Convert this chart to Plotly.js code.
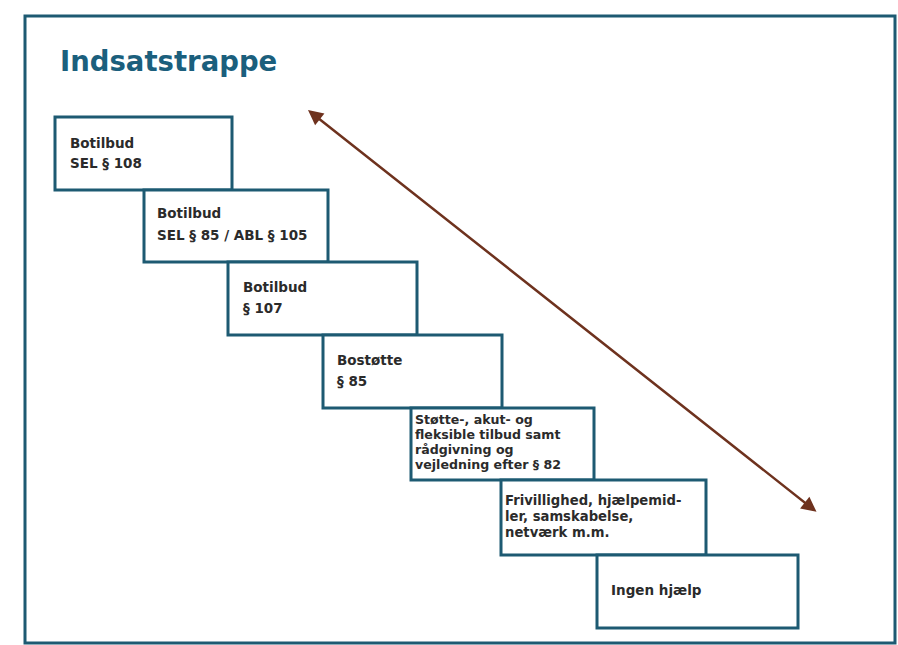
<!DOCTYPE html>
<html>
<head>
<meta charset="utf-8">
<script src="https://cdn.plot.ly/plotly-3.0.1.min.js"></script>
<style>html,body{margin:0;padding:0;background:#fff;}#chart{width:898px;height:645px;}</style>
</head>
<body>
<div id="chart"></div>
<script>
// ---- Data: the steps of the "Indsatstrappe" (from most to least intensive) ----
const chartTitle = "Indsatstrappe";
const stepLevels = [7, 6, 5, 4, 3, 2, 1];
const stepLines = [
  ["Botilbud", "SEL § 108"],
  ["Botilbud", "SEL § 85 / ABL § 105"],
  ["Botilbud", "§ 107"],
  ["Bostøtte", "§ 85"],
  ["Støtte-, akut- og", "fleksible tilbud samt", "rådgivning og", "vejledning efter § 82"],
  ["Frivillighed, hjælpemid-", "ler, samskabelse,", "netværk m.m."],
  ["Ingen hjælp"]
];

// ---- Geometry (diagram coordinates, y downward) ----
const geom = {
  frame: [25, 16, 895, 643],
  boxLeft:   [55, 144, 228, 323, 411, 501, 597],
  boxRight:  [232, 328, 417, 502, 594, 706, 798],
  boxTop:    [117, 190, 262, 335, 408, 480, 555],
  boxBottom: [190, 262, 335, 408, 480, 555, 628],
  textX:     [69, 156, 242, 336, 414, 504, 610],
  lineY: [[143, 163], [213, 235], [287, 308], [360, 381], [419.5, 434.5, 449.5, 464.5], [500, 516, 532], [590]],
  fontSize: [13.5, 13.5, 13.5, 13.5, 12.6, 13.2, 13.5],
  arrowUp: [308, 110],
  arrowDown: [818, 513]
};

const teal = "#1d5a72";
const textCol = "#2b2b2b";
const brown = "#6e321e";
const font = "DejaVu Sans, Verdana, sans-serif";

const shapes = [{
  type: "rect", xref: "x", yref: "y",
  x0: geom.frame[0], y0: geom.frame[1], x1: geom.frame[2], y1: geom.frame[3],
  line: {color: teal, width: 3}, fillcolor: "rgba(0,0,0,0)", layer: "below"
}];
const annotations = [{
  x: 58, y: 61, xref: "x", yref: "y", xanchor: "left", yanchor: "middle",
  text: "<b>" + chartTitle + "</b>", showarrow: false,
  font: {family: font, size: 27.5, color: "#1b5f7d"}
}];

stepLevels.forEach((lvl, i) => {
  shapes.push({
    type: "rect", xref: "x", yref: "y",
    x0: geom.boxLeft[i], x1: geom.boxRight[i], y0: geom.boxTop[i], y1: geom.boxBottom[i],
    line: {color: teal, width: 3}, fillcolor: "#ffffff"
  });
  stepLines[i].forEach((ln, j) => {
    annotations.push({
      x: geom.textX[i], y: geom.lineY[i][j], xref: "x", yref: "y",
      xanchor: "left", yanchor: "middle", showarrow: false, borderpad: 0,
      text: "<b>" + ln + "</b>",
      font: {family: font, size: geom.fontSize[i], color: textCol}
    });
  });
});

annotations.push({
  x: geom.arrowUp[0], y: geom.arrowUp[1], ax: geom.arrowDown[0], ay: geom.arrowDown[1],
  xref: "x", yref: "y", axref: "x", ayref: "y", text: "",
  showarrow: true, arrowside: "end+start", arrowhead: 2, arrowsize: 1.2,
  arrowwidth: 2.5, arrowcolor: brown, standoff: 0, startstandoff: 0
});

const layout = {
  width: 898, height: 645,
  margin: {l: 0, r: 0, t: 0, b: 0},
  paper_bgcolor: "#ffffff", plot_bgcolor: "#ffffff",
  showlegend: false,
  xaxis: {range: [0, 898], visible: false, fixedrange: true},
  yaxis: {range: [645, 0], visible: false, fixedrange: true},
  shapes: shapes,
  annotations: annotations
};

Plotly.newPlot("chart", [{x: [], y: [], type: "scatter", mode: "markers", hoverinfo: "skip"}], layout, {displayModeBar: false, staticPlot: true});
</script>
</body>
</html>
